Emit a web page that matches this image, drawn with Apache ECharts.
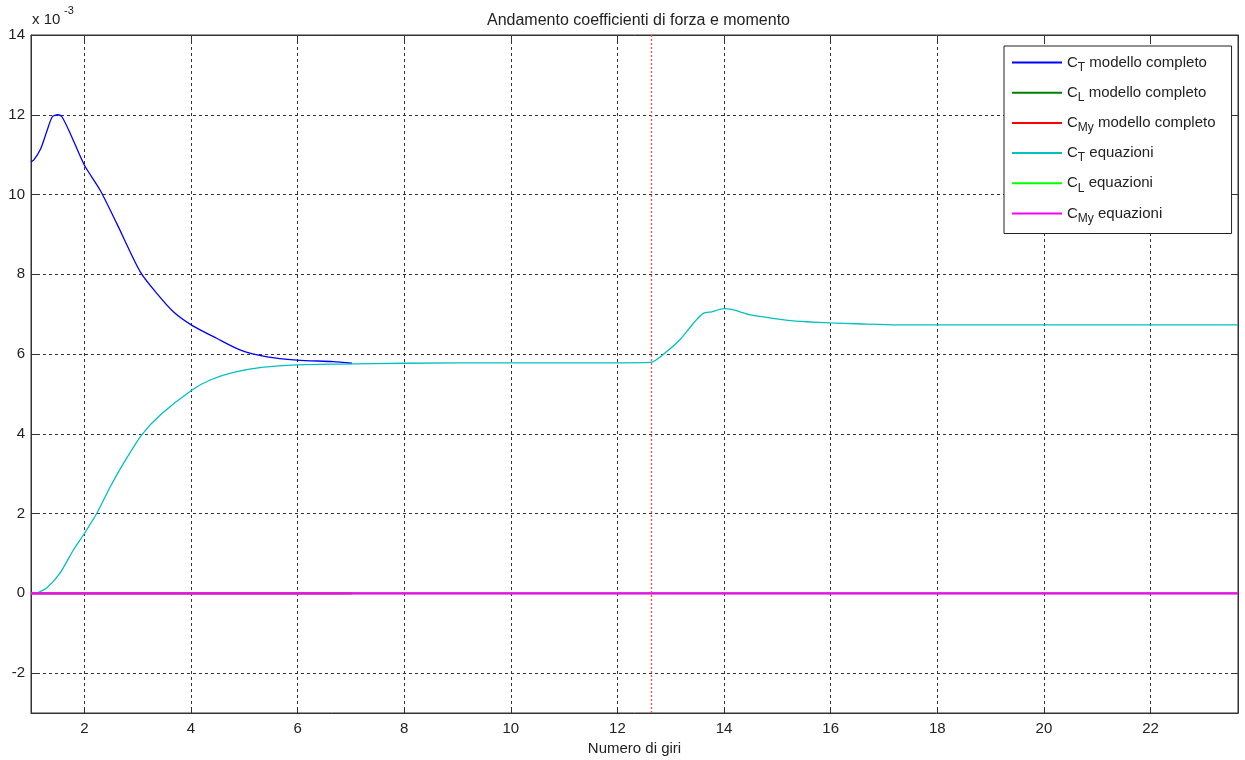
<!DOCTYPE html>
<html>
<head>
<meta charset="utf-8">
<title>Andamento coefficienti di forza e momento</title>
<script src="https://cdn.jsdelivr.net/npm/echarts@6/dist/echarts.min.js"></script>
<style>
    html, body { margin: 0; padding: 0; background: #fff; }
    #main { width: 1245px; height: 760px; }
</style>
</head>
<body>
<div id="main"></div>
<script>
// dati (valori in unità di 10^-3)
var xMin = 1;
var xMax = 23.64;
var yMin = -3;
var yMax = 14;
var xTicks = [2, 4, 6, 8, 10, 12, 14, 16, 18, 20, 22];
var yTicks = [-2, 0, 2, 4, 6, 8, 10, 12, 14];
var xCut = 12.63; // linea verticale rossa

// C_T modello completo
var ctModX = [1.0, 1.05, 1.18, 1.3, 1.4, 1.5, 1.58, 1.74, 2.0, 2.3, 2.61, 3.05, 3.36, 3.67, 4.02, 4.49, 4.93, 5.43, 5.99, 6.67, 7.02];
var ctModY = [10.82, 10.86, 11.14, 11.6, 11.95, 12.0, 11.95, 11.52, 10.74, 10.1, 9.27, 8.06, 7.52, 7.06, 6.72, 6.39, 6.10, 5.93, 5.85, 5.81, 5.77];

// C_L / C_My modello completo
var modZeroX = [1, 7.02];
var clModY = [0, 0];
var cmyModY = [0, 0];

// C_T equazioni
var ctEqX = [1.1, 1.3, 1.55, 1.8, 2.01, 2.24, 2.49, 2.74, 3.08, 3.43, 4.02, 4.36, 4.8, 5.36, 5.99, 6.8, 8, 10, 12, 12.62,
    12.93, 13.18, 13.43, 13.61, 13.77, 13.99, 14.14, 14.3, 14.49, 14.8, 15.05, 15.3, 15.55, 15.99, 16.49, 17.24, 18.05, 20, 22, 23.64];
var ctEqY = [0, 0.14, 0.52, 1.10, 1.52, 2.02, 2.68, 3.27, 3.98, 4.48, 5.10, 5.35, 5.54, 5.67, 5.73, 5.75, 5.77, 5.78, 5.78, 5.79,
    6.07, 6.37, 6.78, 7.02, 7.06, 7.14, 7.12, 7.06, 6.98, 6.92, 6.87, 6.83, 6.81, 6.78, 6.76, 6.73, 6.73, 6.73, 6.73, 6.73];

// C_L / C_My equazioni
var eqZeroX = [1, 23.64];
var clEqY = [0, 0];
var cmyEqY = [0, 0];

var legendNames = [
    'CT modello completo',
    'CL modello completo',
    'CMy modello completo',
    'CT equazioni',
    'CL equazioni',
    'CMy equazioni'
];

function zip(xs, ys) {
    return xs.map(function (x, i) { return [x, ys[i]]; });
}

var myChart = echarts.init(document.getElementById('main'));
var font = "'Liberation Sans', Arial, sans-serif";

// assi stile matlab: tacche interne, griglia tratteggiata
function axisBase(pos, isX, show) {
    return {
        type: 'value',
        position: pos,
        min: isX ? xMin : yMin,
        max: isX ? xMax : yMax,
        axisLine: { show: true, onZero: false, lineStyle: { color: '#333', width: 1 } },
        axisTick: {
            show: true,
            inside: true,
            length: 6,
            customValues: isX ? xTicks : yTicks,
            lineStyle: { color: '#333' }
        },
        axisLabel: {
            show: show,
            customValues: isX ? xTicks : yTicks,
            color: '#222',
            fontFamily: font,
            fontSize: 15,
            margin: isX ? 8 : 6
        },
        splitLine: {
            show: show,
            lineStyle: { color: '#333', type: [3, 3], width: 1 }
        }
    };
}

var xBottom = axisBase('bottom', true, true);
xBottom.name = 'Numero di giri';
xBottom.nameLocation = 'middle';
xBottom.nameGap = 26;
xBottom.nameTextStyle = { color: '#222', fontFamily: font, fontSize: 15 };

function lineSeries(name, data, color, z, width) {
    return {
        name: name,
        type: 'line',
        data: data,
        symbol: 'none',
        showSymbol: false,
        smooth: 0.25,
        z: z,
        lineStyle: { color: color, width: width || 1.3 },
        itemStyle: { color: color }
    };
}

var redSeries = lineSeries(legendNames[2], zip(modZeroX, cmyModY), '#ff0000', 3, 2);
redSeries.markLine = {
    silent: true,
    symbol: ['none', 'none'],
    label: { show: false },
    lineStyle: { color: '#ff4a4a', type: [2, 2], width: 1.3, opacity: 1 },
    data: [{ xAxis: xCut }]
};

var option = {
    animation: false,
    backgroundColor: '#fff',
    title: {
        text: 'Andamento coefficienti di forza e momento',
        left: 482,
        top: 8,
        textStyle: { color: '#222', fontFamily: font, fontSize: 16, fontWeight: 'normal' }
    },
    grid: {
        left: 31, right: 7, top: 35, bottom: 47,
        outerBoundsMode: 'none',
        show: true, borderColor: '#333', borderWidth: 1
    },
    legend: {
        orient: 'vertical',
        left: 1004,
        top: 46,
        padding: [9, 16, 9, 8],
        itemGap: 11.7,
        itemWidth: 50,
        itemHeight: 2,
        icon: 'rect',
        backgroundColor: '#fff',
        borderColor: '#222',
        borderWidth: 1,
        borderRadius: 0,
        data: legendNames,
        formatter: function (name) {
            var sub = name.slice(1, name.indexOf(' '));
            var rest = name.slice(name.indexOf(' '));
            return '{n|C}{s|' + sub + '}{n|' + rest + '}';
        },
        textStyle: {
            color: '#222',
            fontFamily: font,
            fontSize: 15,
            rich: {
                n: { fontFamily: font, fontSize: 15, color: '#222' },
                s: { fontFamily: font, fontSize: 12, color: '#222', padding: [10, 0, 0, 0] }
            }
        }
    },
    graphic: [
        { type: 'text', left: 32, top: 12, style: { text: 'x 10', fontFamily: font, fontSize: 15, fill: '#222' } },
        { type: 'text', left: 64, top: 5, style: { text: '-3', fontFamily: font, fontSize: 11, fill: '#222' } }
    ],
    xAxis: [xBottom, axisBase('top', true, false)],
    yAxis: [axisBase('left', false, true), axisBase('right', false, false)],
    series: [
        lineSeries(legendNames[0], zip(ctModX, ctModY), '#0000ff', 2),
        lineSeries(legendNames[1], zip(modZeroX, clModY), '#008000', 2, 2),
        redSeries,
        lineSeries(legendNames[3], zip(ctEqX, ctEqY), '#00c0c0', 3),
        lineSeries(legendNames[4], zip(eqZeroX, clEqY), '#00ff00', 3, 2),
        lineSeries(legendNames[5], zip(eqZeroX, cmyEqY), '#ff00ff', 4, 2.2)
    ]
};

myChart.setOption(option);
</script>
</body>
</html>
